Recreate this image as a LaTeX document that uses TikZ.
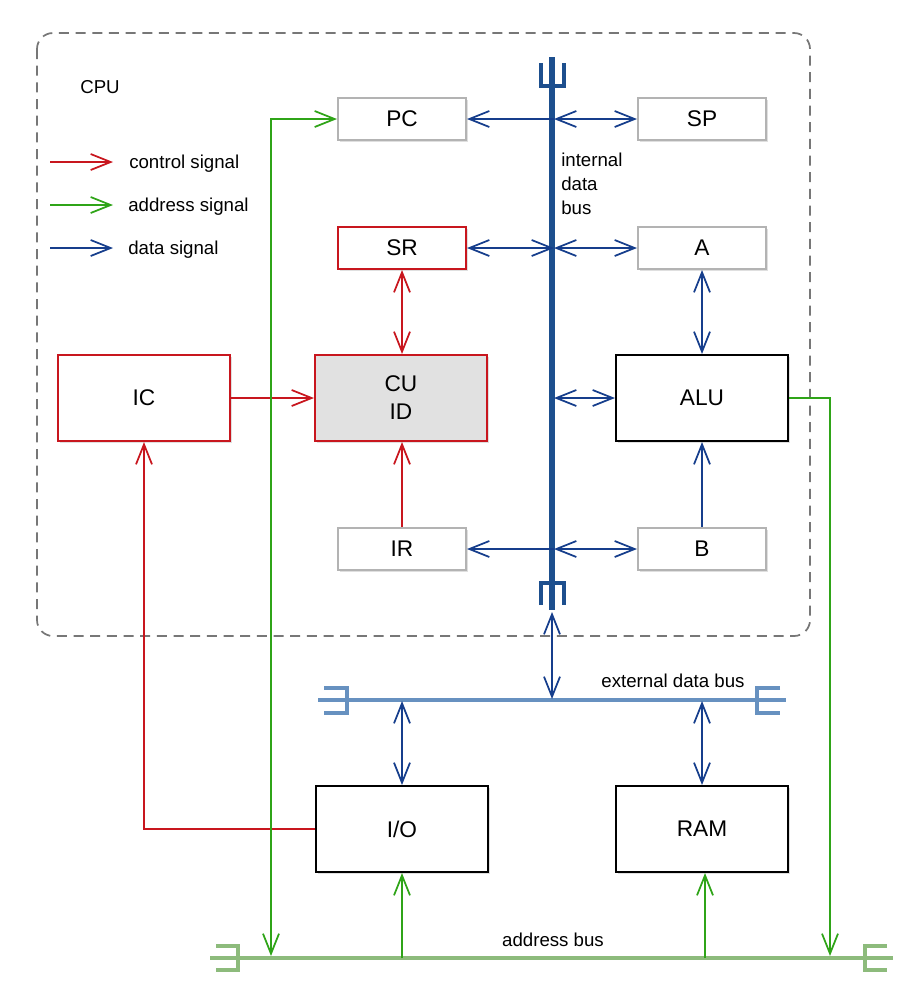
\documentclass[tikz,border=0pt]{standalone}
\usepackage{fontspec}
\setmainfont{Liberation Sans}
\usetikzlibrary{arrows.meta,shadows}
\definecolor{ctlred}{HTML}{C8161E}
\definecolor{adrgreen}{HTML}{2FA418}
\definecolor{datblue}{HTML}{163E8C}
\definecolor{regbord}{HTML}{B3B3B3}
\definecolor{intbus}{HTML}{1D4F8E}
\definecolor{extbus}{HTML}{6791C0}
\definecolor{adrbus}{HTML}{8DBB7C}
\definecolor{cufill}{HTML}{E1E1E1}
\definecolor{cpugray}{HTML}{777777}
\tikzset{
  barbtip/.tip={Straight Barb[length=15pt,width=12pt]},
  boxbase/.style={line width=1.5pt, fill=white, inner sep=0pt,
    font=\fontsize{17}{21}\selectfont, align=center,
    drop shadow={opacity=0.25, shadow xshift=1.5pt, shadow yshift=-1.5pt}},
  regbox/.style={boxbase, draw=regbord, minimum width=96pt, minimum height=31.5pt},
  bigbox/.style={boxbase, minimum width=129pt, minimum height=64.5pt},
  ctl/.style={draw=ctlred, line width=1.3pt},
  adr/.style={draw=adrgreen, line width=1.3pt},
  dat/.style={draw=datblue, line width=1.3pt},
  lbl/.style={font=\fontsize{14}{17}\selectfont, inner sep=0pt},
  one/.style={-{barbtip}},
  two/.style={{barbtip}-{barbtip}},
}
\begin{document}
\begin{tikzpicture}[x=0.75pt,y=-0.75pt]
\useasboundingbox (0,0) rectangle (924,1000);
% CPU frame
\draw[cpugray, line width=1.3pt, dash pattern=on 7.5pt off 5pt, rounded corners=12pt]
  (37,33) rectangle (810,636);
\node[lbl] (cpu) at (100,87) {CPU};
% legend
\coordinate (l1a) at (50,162); \coordinate (l1b) at (113,162);
\coordinate (l2a) at (50,205); \coordinate (l2b) at (113,205);
\coordinate (l3a) at (50,248); \coordinate (l3b) at (113,248);
\draw[ctl,one] (l1a) -- (l1b);
\draw[adr,one] (l2a) -- (l2b);
\draw[dat,one] (l3a) -- (l3b);
\node[lbl,anchor=base west] (t1) at (129,168) {control signal};
\node[lbl,anchor=base west] (t2) at (128,211) {address signal};
\node[lbl,anchor=base west] (t3) at (128,254) {data signal};
% boxes
\node[regbox] (PC) at (402,119) {PC};
\node[regbox] (SP) at (702,119) {SP};
\node[regbox,draw=ctlred] (SR) at (402,248) {SR};
\node[regbox] (A) at (702,248) {A};
\node[regbox] (IR) at (402,549) {IR};
\node[regbox] (B) at (702,549) {B};
\node[bigbox,draw=ctlred] (IC) at (144,398) {IC};
\node[bigbox,draw=ctlred,fill=cufill] (CU) at (401,398) {CU\\ID};
\node[bigbox,draw=black] (ALU) at (702,398) {ALU};
\node[bigbox,draw=black] (IO) at (402,829) {I/O};
\node[bigbox,draw=black] (RAM) at (702,829) {RAM};
% internal data bus
\coordinate (ibt) at (552,57);
\coordinate (ibb) at (552,610);
\draw[intbus, line width=3.8pt] (ibt) -- (ibb);
\draw[intbus, line width=3pt] (540.5,63) -- (540.5,86) -- (563.5,86) -- (563.5,63);
\draw[intbus, line width=3pt] (540.5,605) -- (540.5,583) -- (563.5,583) -- (563.5,605);
\node[lbl,anchor=west,align=left,font=\fontsize{14}{18}\selectfont] (ibl) at (561,184) {internal\\data\\bus};
% external data bus
\coordinate (ebl) at (318,700);
\coordinate (ebr) at (786,700);
\draw[extbus, line width=3.2pt] (ebl) -- (ebr);
\draw[extbus, line width=3pt] (324,688) -- (347,688) -- (347,713) -- (324,713);
\draw[extbus, line width=3pt] (780,688) -- (757,688) -- (757,713) -- (780,713);
\node[lbl] (ebn) at (673,681) {external data bus};
% address bus
\coordinate (abl) at (210,958);
\coordinate (abr) at (893,958);
\draw[adrbus, line width=3.2pt] (abl) -- (abr);
\draw[adrbus, line width=3pt] (216,946) -- (238,946) -- (238,970) -- (216,970);
\draw[adrbus, line width=3pt] (887,946) -- (865,946) -- (865,970) -- (887,970);
\node[lbl] (abn) at (553,940) {address bus};
% bus tap coordinates
\coordinate (b1) at (554,119);
\coordinate (b2) at (554,248);
\coordinate (b3) at (554,398);
\coordinate (b4) at (554,549);
\coordinate (i1) at (552,612);
\coordinate (e0) at (552,699);
\coordinate (e1) at (402,701);
\coordinate (e2) at (702,701);
\coordinate (a1) at (271,956);
\coordinate (a2) at (830,956);
\coordinate (a3) at (402,958);
\coordinate (a4) at (705,958);
% data connectors
\draw[dat,one] (b1) -- (PC.east);
\draw[dat,two] (b1) -- (SP.west);
\draw[dat,two] (SR.east) -- (b2);
\draw[dat,two] (b2) -- (A.west);
\draw[dat,two] (b3) -- (ALU.west);
\draw[dat,one] (b4) -- (IR.east);
\draw[dat,two] (b4) -- (B.west);
\draw[dat,two] (A.south) -- (ALU.north);
\draw[dat,one] (B.north) -- (ALU.south);
\draw[dat,two] (i1) -- (e0);
\draw[dat,two] (e1) -- (IO.north);
\draw[dat,two] (e2) -- (RAM.north);
% control connectors
\draw[ctl,two] (SR.south) -- (SR.south |- CU.north);
\draw[ctl,one] (IC.east) -- (CU.west);
\draw[ctl,one] (IR.north) -- (IR.north |- CU.south);
\draw[ctl,one] (IO.west) -| (IC.south);
% address connectors
\draw[adr,two] (a1) |- (PC.west);
\draw[adr,one] (ALU.east) -| (a2);
\draw[adr,one] (a3) -- (IO.south);
\draw[adr,one] (a4) -- (RAM.south -| a4);
\end{tikzpicture}
\end{document}
